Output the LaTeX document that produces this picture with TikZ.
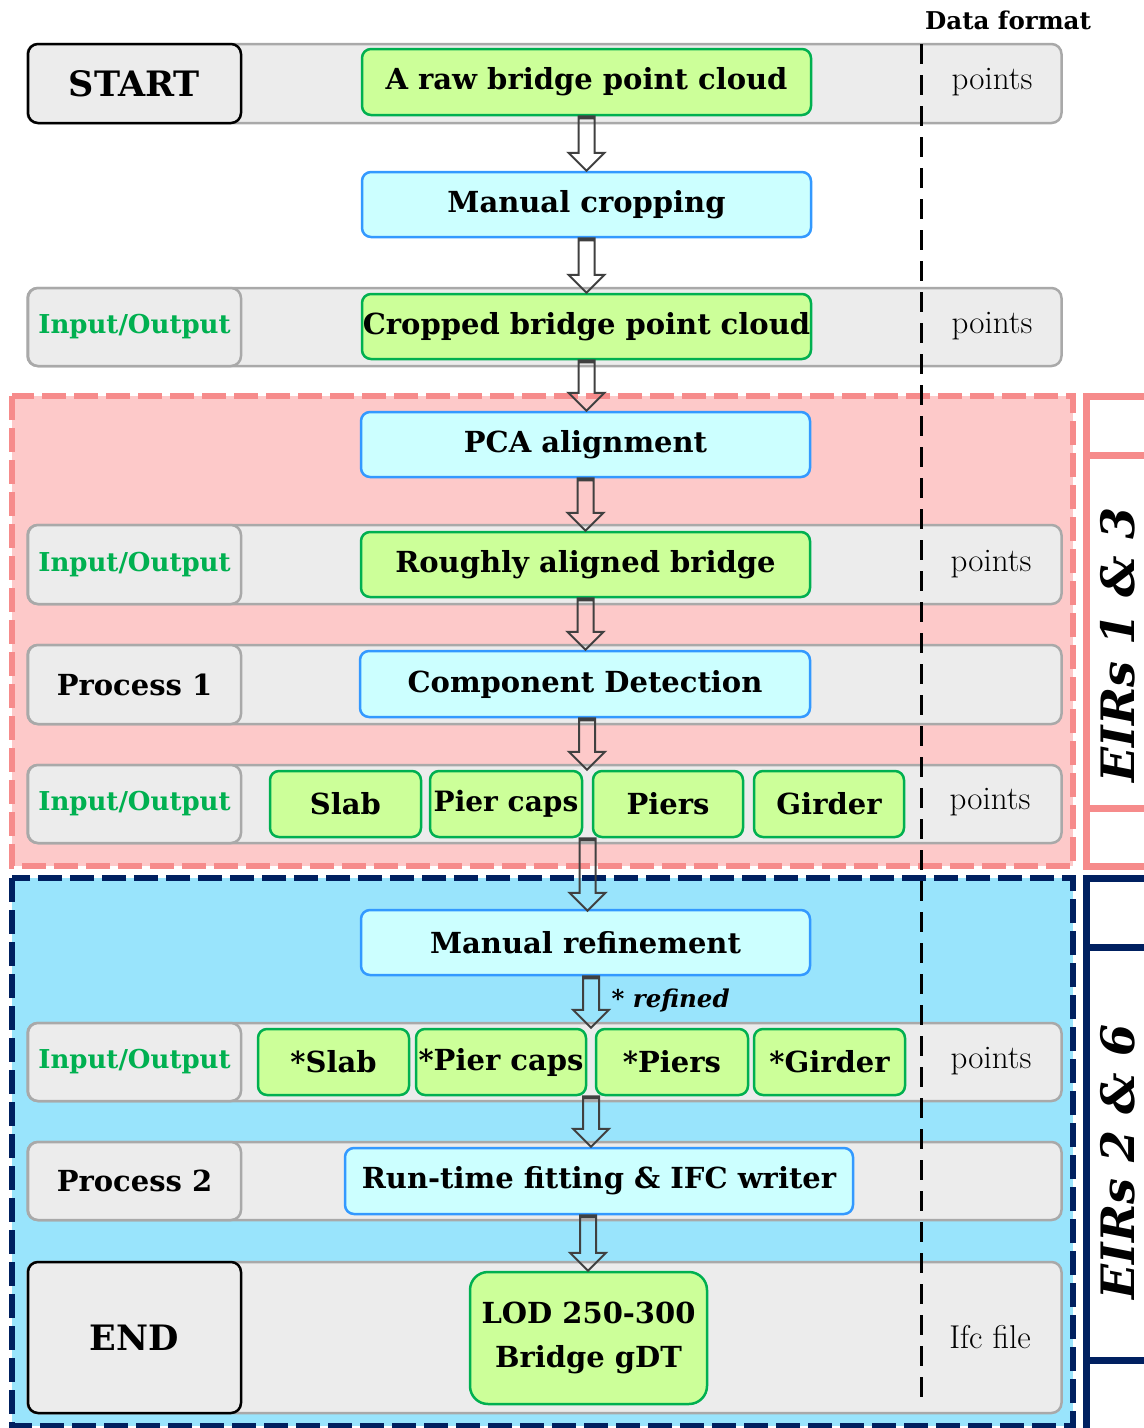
\documentclass[tikz,border=0pt]{standalone}
\usepackage{fontspec}
\usetikzlibrary{positioning,calc}
\newfontfamily\dejavu{DejaVu Serif}
\definecolor{lanegray}{HTML}{ECECEC}
\definecolor{laneedge}{HTML}{A9A9A9}
\definecolor{outgreen}{HTML}{CCFF99}
\definecolor{outedge}{HTML}{00B050}
\definecolor{procfill}{HTML}{CCFFFF}
\definecolor{procedge}{HTML}{3399FF}
\definecolor{pinkfill}{HTML}{FDC9C9}
\definecolor{pinkedge}{HTML}{F68B8B}
\definecolor{bluefill}{HTML}{99E4FC}
\definecolor{navyedge}{HTML}{002060}
\definecolor{arrowgray}{HTML}{404040}

\begin{document}
\begin{tikzpicture}[
				x=1pt,y=-1pt,
				lane/.style={draw=laneedge,fill=lanegray,line width=2.5pt,rounded corners=10pt,inner sep=0pt,minimum width=1034pt},
				head/.style={lane,minimum width=213pt,font=\dejavu\bfseries\fontsize{29}{34}\selectfont},
				iohead/.style={head,text=outedge,font=\dejavu\bfseries\fontsize{26}{30}\selectfont},
				termhead/.style={head,draw=black,font=\dejavu\bfseries\fontsize{35}{40}\selectfont},
				output/.style={draw=outedge,fill=outgreen,line width=2.5pt,rounded corners=9pt,inner sep=0pt,
					minimum height=66pt,font=\dejavu\bfseries\fontsize{29}{44}\selectfont,align=center},
				process/.style={output,draw=procedge,fill=procfill},
				fmt/.style={font=\fontsize{33}{38}\selectfont},
				region/.style={line width=6pt,dash pattern=on 24pt off 8pt},
				eirbox/.style={draw,fill=white,line width=7pt,inner sep=0pt},
				eirtext/.style={font=\dejavu\bfseries\itshape\fontsize{46}{50}\selectfont,rotate=90},
				flow/.style={draw=arrowgray,line width=2pt,line join=miter,
					to path={let \p1=(\tikztostart),\p2=(\tikztotarget) in
						(\x1-8pt,\y1) -- (\x1-8pt,\y2+18pt) -- (\x1-18pt,\y2+18pt) -- (\x1,\y2)
						-- (\x1+18pt,\y2+18pt) -- (\x1+8pt,\y2+18pt) -- (\x1+8pt,\y1) -- cycle
						(\x1-8pt,\y1) rectangle (\x1+8pt,\y1-2pt)}}
				]
				\useasboundingbox (0,0) rectangle (1144,1428);
				\clip (0,0) rectangle (1144,1428);
				
				% the two EIR regions
				\draw[region,draw=pinkedge,fill=pinkfill] (12,396) rectangle (1073,866);
				\draw[region,draw=navyedge,fill=bluefill] (12,878) rectangle (1073,1426);
				
				% lanes
				\node[lane,minimum height=79pt] (lane1) at (544.5,83.5) {};
				\node[lane,minimum height=78pt] (lane3) at (544.5,327) {};
				\node[lane,minimum height=79pt] (lane5) at (544.5,564.5) {};
				\node[lane,minimum height=79pt] (lane6) at (544.5,684.5) {};
				\node[lane,minimum height=78pt] (lane7) at (544.5,804) {};
				\node[lane,minimum height=78pt] (lane9) at (544.5,1062) {};
				\node[lane,minimum height=78pt] (lane10) at (544.5,1181) {};
				\node[lane,minimum height=151pt] (lane11) at (544.5,1337.5) {};
				
				% lane heads
				\node[termhead,minimum height=79pt] (start) at (134.5,83.5) {START};
				\node[iohead,minimum height=78pt] (io3) at (134.5,327) {Input/Output};
				\node[iohead,minimum height=79pt] (io5) at (134.5,564.5) {Input/Output};
				\node[head,minimum height=79pt] (proc1) at (134.5,684.5) {Process 1};
				\node[iohead,minimum height=78pt] (io7) at (134.5,804) {Input/Output};
				\node[iohead,minimum height=78pt] (io9) at (134.5,1062) {Input/Output};
				\node[head,minimum height=78pt] (proc2) at (134.5,1181) {Process 2};
				\node[termhead,minimum height=151pt] (end) at (134.5,1337.5) {END};
				
				% data format column
				\draw[line width=3pt,dash pattern=on 20pt off 11pt] (921,44) -- (921,1408);
				\node[font=\dejavu\bfseries\fontsize{24.5}{28}\selectfont] (dformat) at (1008,20) {Data format};
				\node[fmt] (fmt1) at (992,82) {points};
				\node[fmt] (fmt3) at (992,326) {points};
				\node[fmt] (fmt5) at (991,564) {points};
				\node[fmt] (fmt7) at (990,802) {points};
				\node[fmt] (fmt9) at (991,1061) {points};
				\node[fmt] (fmt11) at (990,1337) {Ifc file};
				
				% steps
				\node[output,minimum width=449pt] (raw) at (586.5,82) {A raw bridge point cloud};
				\node[process,minimum width=449pt,minimum height=65pt] (crop) at (586.5,204.5) {Manual cropping};
				\node[output,minimum width=449pt,minimum height=65pt] (cropped) at (586.5,326.5) {Cropped bridge point cloud};
				\node[process,minimum width=449pt,minimum height=65pt] (pca) at (585.5,444.5) {PCA alignment};
				\node[output,minimum width=449pt,minimum height=65pt] (rough) at (585.5,564.5) {Roughly aligned bridge};
				\node[process,minimum width=450pt] (cd) at (585,684) {Component Detection};
				
				% components
				\node[output,minimum width=151pt] (slab) at (345.5,804) {Slab};
				\node[output,minimum width=152pt,font=\dejavu\bfseries\fontsize{28}{34}\selectfont] (piercaps) at (506,804) {Pier caps};
				\node[output,minimum width=150pt] (piers) at (668,804) {Piers};
				\node[output,minimum width=150pt] (girder) at (829,804) {Girder};
				
				\node[process,minimum width=449pt,minimum height=65pt] (refine) at (585.5,942.5) {Manual refinement};
				
				% refined components
				\node[output,minimum width=151pt] (rslab) at (333.5,1062) {*Slab};
				\node[output,minimum width=170pt] (rpiercaps) at (501,1062) {*Pier caps};
				\node[output,minimum width=152pt] (rpiers) at (672,1062) {*Piers};
				\node[output,minimum width=151pt] (rgirder) at (829.5,1062) {*Girder};
				
				\node[process,minimum width=508pt] (fit) at (599,1181) {Run-time fitting \& IFC writer};
				\node[output,minimum width=237pt,minimum height=132pt,rounded corners=18pt] (gdt) at (588.5,1338) {LOD 250-300\\Bridge gDT};
				
				% the arrows
				\draw[flow] (raw.south) to (crop.north);
				\draw[flow] (crop.south) to (cropped.north);
				\draw[flow] (cropped.south) to (pca.north);
				\draw[flow] (pca.south) to (rough.north);
				\draw[flow] (rough.south) to (cd.north);
				\draw[flow] ([xshift=2pt]cd.south) to ($(piercaps.north east)!0.5!(piers.north west)$);
				\draw[flow] ($(piercaps.south east)!0.5!(piers.south west)$) to ([yshift=-2pt]refine.north);
				\draw[flow] ([xshift=5.5pt]refine.south) to (rpiercaps.north);
				\draw[flow] ($(rpiercaps.south east)!0.5!(rpiers.south west)$) to (fit.north);
				\draw[flow] ([xshift=-11pt]fit.south) to (gdt.north);
				\node[font=\dejavu\bfseries\itshape\fontsize{24.5}{28}\selectfont,anchor=west] (refnote) at (608,1001) {* refined};
				
				% EIR labels on the right
				\draw[pinkedge,line width=7pt,fill=white] (1086,396) rectangle (1200,866);
				\node[eirbox,draw=pinkedge,minimum width=353pt,minimum height=114pt,rotate=90] (eirA) at (1143,631.5) {};
				\node[eirtext] (eirAt) at (1118,645) {EIRs 1 \& 3};
				\draw[navyedge,line width=7pt,fill=white] (1086,878) rectangle (1200,1440);
				\node[eirbox,draw=navyedge,minimum width=413pt,minimum height=114pt,rotate=90] (eirB) at (1143,1153.5) {};
				\node[eirtext] (eirBt) at (1118,1162) {EIRs 2 \& 6};
			\end{tikzpicture}
\end{document}
